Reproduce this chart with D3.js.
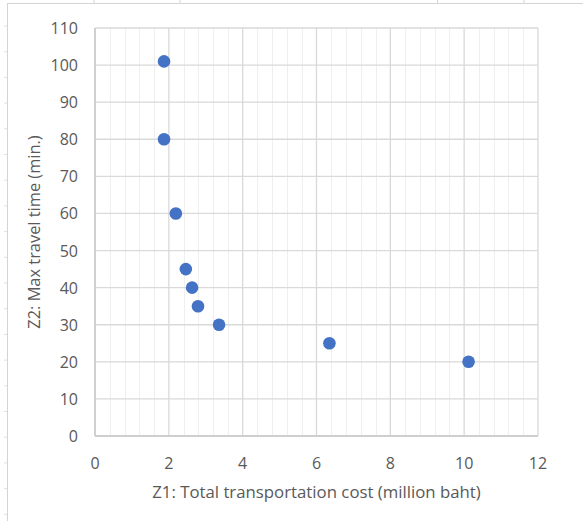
<!DOCTYPE html>
<html><head><meta charset="utf-8">
<script src="https://cdn.jsdelivr.net/npm/d3@7"></script>
<style>body{margin:0;background:#fff;} svg{display:block;}</style>
</head><body>
<svg id="c" width="583" height="521"></svg>
<script>
const costs = [1.87, 1.87, 2.19, 2.46, 2.63, 2.79, 3.36, 6.35, 10.12];
const times = [101, 80, 60, 45, 40, 35, 30, 25, 20];
const xTicks = [0, 2, 4, 6, 8, 10, 12];
const yTicks = [0, 10, 20, 30, 40, 50, 60, 70, 80, 90, 100, 110];
const xTitle = "Z1: Total transportation cost (million baht)";
const yTitle = "Z2: Max travel time (min.)";

(function () {
const svg = d3.select("#c");
const font = "'Open Sans', sans-serif";
const W = 583, H = 521;
const pL = 95, pR = 538, pT = 28, pB = 436;

// spreadsheet-like background lines
svg.append("rect").attr("width", W).attr("height", H).attr("fill", "#fff");
svg.append("line").attr("x1", 7).attr("x2", W).attr("y1", 3.5).attr("y2", 3.5).attr("stroke", "#d4d4d4");
svg.append("line").attr("x1", 7.5).attr("x2", 7.5).attr("y1", 3).attr("y2", H).attr("stroke", "#d4d4d4");
[94, 180, 437.5, 524].forEach(v => svg.append("line").attr("x1", v).attr("x2", v).attr("y1", 0).attr("y2", 3).attr("stroke", "#d4d4d4"));
d3.range(0, 20).forEach(i => svg.append("line").attr("x1", 4).attr("x2", 7).attr("y1", 26 + i * 25.7).attr("y2", 26 + i * 25.7).attr("stroke", "#e0e0e0"));

const x = d3.scaleLinear().domain([0, 12]).range([pL, pR]);
const y = d3.scaleLinear().domain([0, 110]).range([pB, pT]);

const g = svg.append("g");
// minor vertical gridlines
d3.range(0, 12.0001, 0.4).forEach(v => {
  if (Math.abs(v / 2 - Math.round(v / 2)) < 1e-6) return;
  g.append("line").attr("x1", Math.round(x(v)) + 0.5).attr("x2", Math.round(x(v)) + 0.5)
    .attr("y1", pT).attr("y2", pB).attr("stroke", "#efefef").attr("stroke-width", 1);
});
// major vertical gridlines
g.selectAll(".vx").data(xTicks).join("line")
  .attr("x1", d => x(d)).attr("x2", d => x(d)).attr("y1", pT).attr("y2", pB)
  .attr("stroke", "#d9d9d9").attr("stroke-width", 1.3);
// major horizontal gridlines
g.selectAll(".hy").data(yTicks).join("line")
  .attr("x1", pL).attr("x2", pR).attr("y1", d => y(d)).attr("y2", d => y(d))
  .attr("stroke", "#d9d9d9").attr("stroke-width", 1.3);
// axes lines
g.append("line").attr("x1", pL).attr("x2", pR).attr("y1", pB).attr("y2", pB).attr("stroke", "#c8c8c8").attr("stroke-width", 1.5);
g.append("line").attr("x1", pL).attr("x2", pL).attr("y1", pT).attr("y2", pB).attr("stroke", "#c8c8c8").attr("stroke-width", 1.5);

// tick labels
svg.selectAll(".xt").data(xTicks).join("text")
  .attr("x", d => x(d)).attr("y", 469).attr("text-anchor", "middle")
  .attr("font-family", font).attr("font-size", 16).attr("fill", "#595959").text(d => d);
svg.selectAll(".yt").data(yTicks).join("text")
  .attr("x", 78).attr("y", d => y(d) + 6).attr("text-anchor", "end")
  .attr("font-family", font).attr("font-size", 16).attr("fill", "#595959").text(d => d);

// titles
svg.append("text").attr("x", (pL + pR) / 2).attr("y", 498).attr("text-anchor", "middle")
  .attr("font-family", font).attr("font-size", 16.8).attr("fill", "#595959").text(xTitle);
svg.append("text").attr("transform", `translate(40,${(pT + pB) / 2}) rotate(-90)`).attr("text-anchor", "middle")
  .attr("font-family", font).attr("font-size", 16.4).attr("fill", "#595959").text(yTitle);

// points
svg.selectAll(".pt").data(costs.map((c, i) => [c, times[i]])).join("circle")
  .attr("cx", d => x(d[0])).attr("cy", d => y(d[1])).attr("r", 6.3)
  .attr("fill", "#4472c4");
})();
</script>
</body></html>
